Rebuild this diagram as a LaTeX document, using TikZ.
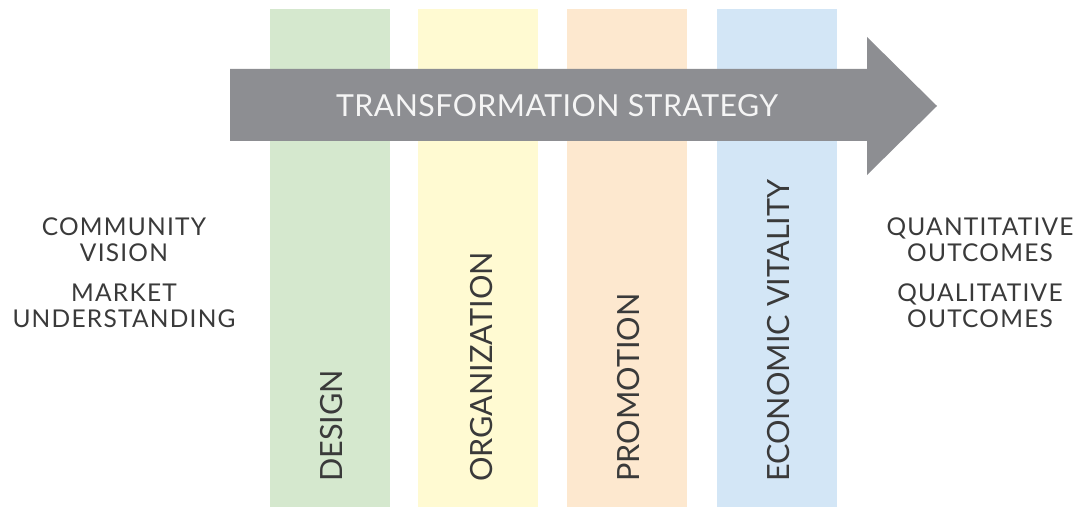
\documentclass[tikz,border=0pt]{standalone}
\usepackage{fontspec}
\setmainfont{Lato}
\newfontfamily\sidefont[LetterSpace=5]{Lato}
\newfontfamily\arrowfont[LetterSpace=1.5]{Lato}
\definecolor{cgreen}{HTML}{D5E8CE}
\definecolor{cyellow}{HTML}{FFFAD2}
\definecolor{corange}{HTML}{FDE8CF}
\definecolor{cblue}{HTML}{D3E6F6}
\definecolor{arrowgray}{HTML}{8D8E92}
\definecolor{txt}{HTML}{3A3A3A}
\begin{document}
\begin{tikzpicture}[x=1pt,y=-1pt,
  column/.style={fill=#1, draw=none, minimum width=120pt, minimum height=498pt, inner sep=0pt, anchor=north},
  collabel/.style={rotate=90, anchor=west, inner sep=0pt, text=txt, font=\fontsize{30.6}{31}\selectfont},
  sidetext/.style={align=center, anchor=north, inner sep=0pt, text=txt, font=\sidefont\fontsize{24.5}{26}\selectfont},
  arrowlabel/.style={anchor=north, inner sep=0pt, text=white!96!black, font=\arrowfont\fontsize{30.3}{30}\selectfont}]
\useasboundingbox (0,0) rectangle (1079,508);
% columns
\node[column=cgreen]  (design) at (330,9) {};
\node[column=cyellow] (organization) at (478,9) {};
\node[column=corange] (promotion) at (627,9) {};
\node[column=cblue]   (economic) at (777,9) {};
% arrow
\fill[arrowgray] (230,69) -- (867,69) -- (867,37) -- (937,106) -- (867,175) -- (867,141) -- (230,141) -- cycle;
\node[arrowlabel] (strategy) at (557,94) {TRANSFORMATION STRATEGY};
% column labels
\node[collabel] (designlbl) at (331.5,482) {DESIGN};
\node[collabel] (organizationlbl) at (481.5,482) {ORGANIZATION};
\node[collabel] (promotionlbl) at (629,482) {PROMOTION};
\node[collabel] (economiclbl) at (778.5,482) {ECONOMIC VITALITY};
% side texts
\node[sidetext] (vision) at (124,218) {COMMUNITY\\VISION};
\node[sidetext] (market) at (124,284) {MARKET\\UNDERSTANDING};
\node[sidetext] (quant) at (980,218) {QUANTITATIVE\\OUTCOMES};
\node[sidetext] (qual) at (980,284) {QUALITATIVE\\OUTCOMES};
\end{tikzpicture}
\end{document}
